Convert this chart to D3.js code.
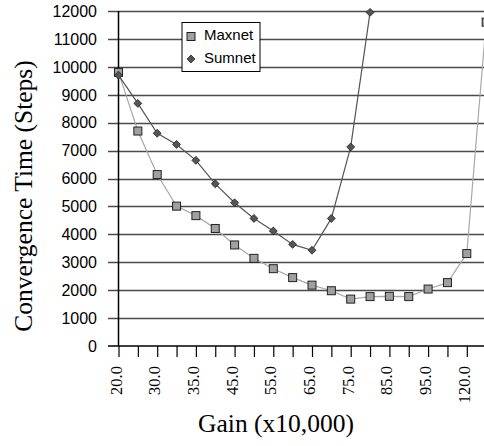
<!DOCTYPE html>
<html lang="en">
<head>
<meta charset="utf-8">
<title>Convergence Time vs Gain</title>
<script src="https://cdn.jsdelivr.net/npm/d3@7"></script>
<style>
  body { margin: 0; background: #fff; }
  .ylab { font-family: "Liberation Sans", Arial, sans-serif; font-size: 16px; }
  .xlab { font-family: "Liberation Serif", "Times New Roman", serif; font-size: 16.5px; }
  .title { font-family: "Liberation Serif", "Times New Roman", serif; font-size: 25.5px; }
  .legend { font-family: "Liberation Sans", Arial, sans-serif; font-size: 15px; }
</style>
</head>
<body>
<svg width="484" height="446"></svg>
<script>

// gain categories (x10,000); only every other one is labelled
var gains = ["20.0", "25.0", "30.0", "32.5", "35.0", "40.0", "45.0", "50.0", "55.0", "60.0",
             "65.0", "70.0", "75.0", "80.0", "85.0", "90.0", "95.0", "110.0", "120.0", "130.0"];

var maxnet = [9800, 7700, 6140, 5010, 4670, 4210, 3620, 3140, 2770, 2450,
              2180, 1980, 1680, 1770, 1780, 1770, 2040, 2270, 3310, 11600];

var sumnet = [9700, 8690, 7620, 7220, 6650, 5810, 5130, 4570, 4120, 3640,
              3430, 4570, 7130, 11950];

var yTicks = [0, 1000, 2000, 3000, 4000, 5000, 6000, 7000, 8000, 9000, 10000, 11000, 12000];

var svg = d3.select("svg"),
    margin = {top: 11, left: 118.5, bottom: 100},
    height = +svg.attr("height") - margin.top - margin.bottom,
    step = 19.35;

var x = d3.scalePoint()
    .domain(gains)
    .range([margin.left, margin.left + step * (gains.length - 1)]);

var y = d3.scaleLinear()
    .domain([0, 12000])
    .range([margin.top + height, margin.top]);

var y0 = y(0);

// horizontal grid lines (extend left of the axis as ticks)
svg.append("g")
  .selectAll("line")
  .data(yTicks.slice(1))
  .enter().append("line")
    .attr("x1", 108).attr("x2", 484)
    .attr("y1", function(d) { return Math.round(y(d)) + 0.5; })
    .attr("y2", function(d) { return Math.round(y(d)) + 0.5; })
    .attr("stroke", "#4a4a4a")
    .attr("stroke-width", 1.5);

// y axis labels
svg.append("g")
  .selectAll("text")
  .data(yTicks)
  .enter().append("text")
    .attr("class", "ylab")
    .attr("x", 97)
    .attr("y", function(d) { return y(d); })
    .attr("dy", "0.36em")
    .attr("text-anchor", "end")
    .text(function(d) { return d; });

// x axis with ticks at every category
var xAxis = svg.append("g")
    .attr("transform", "translate(0," + y0 + ")")
    .call(d3.axisBottom(x).tickSize(11).tickFormat(""));
xAxis.select(".domain").remove();
xAxis.selectAll(".tick line").attr("stroke", "#000").attr("stroke-width", 1.2);

svg.append("g")
  .selectAll("text")
  .data(gains.filter(function(d, i) { return i % 2 === 0; }))
  .enter().append("text")
    .attr("class", "xlab")
    .attr("transform", function(d) { return "translate(" + (x(d) + 3) + "," + (y0 + 20) + ") rotate(-90)"; })
    .attr("text-anchor", "end")
    .text(function(d) { return d; });

// axis lines
svg.append("line")
    .attr("x1", 108).attr("x2", 484)
    .attr("y1", y0).attr("y2", y0)
    .attr("stroke", "#000").attr("stroke-width", 1.5);
svg.append("line")
    .attr("x1", margin.left).attr("x2", margin.left)
    .attr("y1", y(12000)).attr("y2", y0)
    .attr("stroke", "#000").attr("stroke-width", 1.5);

var line = d3.line()
    .x(function(d, i) { return x(gains[i]); })
    .y(function(d) { return y(d); });

svg.append("path")
    .datum(maxnet)
    .attr("d", line)
    .attr("fill", "none")
    .attr("stroke", "#a8a8a8")
    .attr("stroke-width", 1.2);

svg.append("path")
    .datum(sumnet)
    .attr("d", line)
    .attr("fill", "none")
    .attr("stroke", "#555")
    .attr("stroke-width", 1.2);

svg.append("g")
  .selectAll("rect")
  .data(maxnet)
  .enter().append("rect")
    .attr("x", function(d, i) { return x(gains[i]) - 4; })
    .attr("y", function(d) { return y(d) - 4; })
    .attr("width", 8).attr("height", 8)
    .attr("fill", "#a0a0a0")
    .attr("stroke", "#222")
    .attr("stroke-width", 1);

var diamond = d3.symbol().type(d3.symbolDiamond2).size(40);
svg.append("g")
  .selectAll("path")
  .data(sumnet)
  .enter().append("path")
    .attr("d", diamond)
    .attr("transform", function(d, i) { return "translate(" + x(gains[i]) + "," + y(d) + ")"; })
    .attr("fill", "#555")
    .attr("stroke", "#222")
    .attr("stroke-width", 0.8);

// legend
var lg = svg.append("g");
lg.append("rect")
    .attr("x", 182).attr("y", 22.5)
    .attr("width", 78).attr("height", 49)
    .attr("fill", "#fff").attr("stroke", "#000").attr("stroke-width", 1);
lg.append("rect")
    .attr("x", 187).attr("y", 32.5).attr("width", 8).attr("height", 8)
    .attr("fill", "#a0a0a0").attr("stroke", "#222");
lg.append("path")
    .attr("d", diamond)
    .attr("transform", "translate(191,59)")
    .attr("fill", "#555").attr("stroke", "#222").attr("stroke-width", 0.8);
lg.append("text").attr("class", "legend").attr("x", 204).attr("y", 35).attr("dy", "0.36em").text("Maxnet");
lg.append("text").attr("class", "legend").attr("x", 204).attr("y", 58).attr("dy", "0.36em").text("Sumnet");

// titles
svg.append("text")
    .attr("class", "title")
    .attr("x", 276).attr("y", 432)
    .attr("text-anchor", "middle")
    .text("Gain (x10,000)");

svg.append("text")
    .attr("class", "title")
    .attr("transform", "translate(32,196) rotate(-90)")
    .attr("text-anchor", "middle")
    .text("Convergence Time (Steps)");

</script>
</body>
</html>
